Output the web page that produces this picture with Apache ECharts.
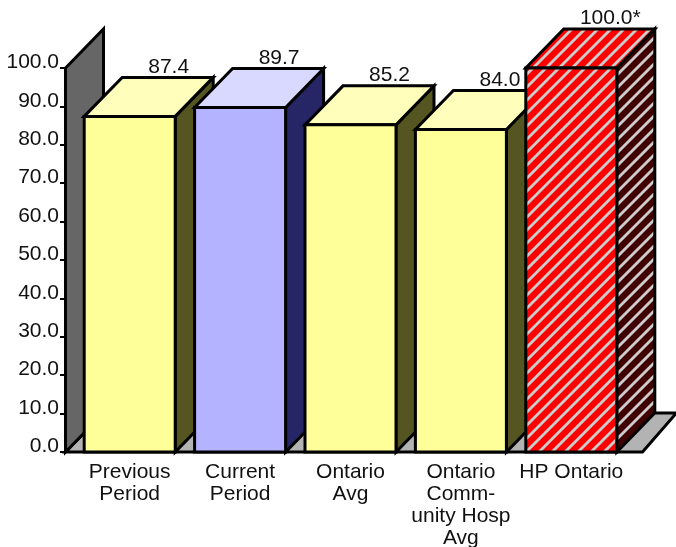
<!DOCTYPE html>
<html>
<head>
<meta charset="utf-8">
<style>html,body{margin:0;padding:0;background:#fff}#c{width:676px;height:547px}</style>
<script src="https://cdn.jsdelivr.net/npm/echarts@6/dist/echarts.min.js"></script>
</head>
<body>
<div id="c"></div>
<script>
// Score comparison drawn as extruded 3D columns.
const categories = ['Previous\nPeriod', 'Current\nPeriod', 'Ontario\nAvg', 'Ontario\nComm-\nunity Hosp\nAvg', 'HP Ontario'];
const values = [87.4, 89.7, 85.2, 84.0, 100.0];
const valueLabels = ['87.4', '89.7', '85.2', '84.0', '100.0*'];
const palettes = ['yellow', 'blue', 'yellow', 'yellow', 'hatched'];

const DEPTH_X = 38, DEPTH_Y = 39, BAR_W = 91;
const FONT = '"Liberation Sans", Arial, sans-serif';
const INK = '#111111';

// Diagonal hatch tile: a base colour crossed by light grey stripes, set pixel by
// pixel so the stripes stay continuous across tile seams.
function hatch(base) {
  const n = 13, cv = document.createElement('canvas');
  cv.width = cv.height = n;
  const g = cv.getContext('2d');
  g.fillStyle = base; g.fillRect(0, 0, n, n);
  g.fillStyle = '#cccccc';
  for (let y = 0; y < n; y++) {
    for (let x = 0; x < n; x++) {
      const d = (x + y) % n;
      g.globalAlpha = d === 0 || d === 4 ? 0.5 : (d < 4 ? 1 : 0);
      g.fillRect(x, y, 1, 1);
    }
  }
  return { image: cv, repeat: 'repeat' };
}

const faces = {
  yellow: { front: '#ffff99', top: '#ffffbb', side: '#555522' },
  blue: { front: '#b3b3ff', top: '#d9d9ff', side: '#262666' },
  hatched: { front: hatch('#ff0000'), top: hatch('#ff0000'), side: hatch('#400000') }
};
const edge = { stroke: '#000', lineWidth: 3, lineJoin: 'miter' };

function poly(points, fill) {
  return { type: 'polygon', shape: { points }, style: Object.assign({ fill }, edge) };
}

// Floor and back wall of the plot box.
function renderStage(params, api) {
  const zero = api.coord([0, 0]), full = api.coord([0, 100]);
  const left = params.coordSys.x - 9;
  const right = params.coordSys.x + params.coordSys.width + 16;
  const y0 = zero[1], y1 = full[1];
  return {
    type: 'group',
    children: [
      poly([[left, y0], [right, y0], [right + 34, y0 - DEPTH_Y], [left + DEPTH_X, y0 - DEPTH_Y]], '#b3b3b3'),
      poly([[left, y0], [left, y1], [left + DEPTH_X, y1 - DEPTH_Y], [left + DEPTH_X, y0 - DEPTH_Y]], '#666666')
    ]
  };
}

// One column: side, top and front faces plus its value text.
function renderColumn(params, api) {
  const i = api.value(0);
  const base = api.coord([i, 0]), head = api.coord([i, api.value(1)]);
  const f = faces[palettes[i]];
  const x0 = base[0] - BAR_W / 2, x1 = base[0] + BAR_W / 2;
  const yb = base[1], yt = head[1];
  const dx = DEPTH_X, dy = DEPTH_Y;
  return {
    type: 'group',
    children: [
      poly([[x1, yb], [x1, yt], [x1 + dx, yt - dy], [x1 + dx, yb - dy]], f.side),
      poly([[x0, yt], [x0 + dx, yt - dy], [x1 + dx, yt - dy], [x1, yt]], f.top),
      poly([[x0, yb], [x0, yt], [x1, yt], [x1, yb]], f.front),
      {
        type: 'text',
        x: base[0] + dx + 1, y: yt - dy,
        style: {
          text: valueLabels[i], fill: INK, font: '21px ' + FONT,
          align: 'center', verticalAlign: 'bottom'
        }
      }
    ]
  };
}

const chart = echarts.init(document.getElementById('c'), null, { renderer: 'canvas' });
chart.setOption({
  animation: false,
  backgroundColor: '#fff',
  grid: { left: 74.5, top: 68, width: 552, height: 384, outerBoundsMode: 'none' },
  xAxis: {
    type: 'category', data: categories,
    axisLine: { show: false }, axisTick: { show: false },
    axisLabel: { color: INK, fontFamily: FONT, fontSize: 21, lineHeight: 22, margin: 9, interval: 0 }
  },
  yAxis: {
    type: 'value', min: 0, max: 100, interval: 10, offset: 9.5,
    splitLine: { show: false },
    axisLine: { show: false },
    axisTick: { show: true, length: 5, lineStyle: { color: '#000', width: 2 } },
    axisLabel: {
      color: INK, fontFamily: FONT, fontSize: 21, margin: 6,
      verticalAlign: 'bottom', padding: [0, 0, -5, 0],
      formatter: v => v.toFixed(1)
    }
  },
  series: [
    { type: 'custom', z: 1, silent: true, data: [[0, 0]], renderItem: renderStage, clip: false },
    {
      type: 'custom', z: 2, silent: true, clip: false,
      data: values.map((v, i) => [i, v]),
      encode: { x: 0, y: 1 }, renderItem: renderColumn
    }
  ]
});
</script>
</body>
</html>
